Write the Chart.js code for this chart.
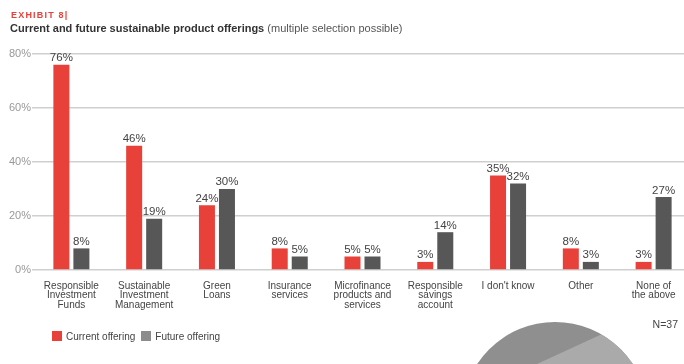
<!DOCTYPE html>
<html>
<head>
<meta charset="utf-8">
<script src="https://cdn.jsdelivr.net/npm/chart.js@4/dist/chart.umd.min.js"></script>
<style>
  html, body { margin: 0; padding: 0; background: #fff; overflow: hidden; }
  body { width: 684px; height: 364px; position: relative; font-family: "Liberation Sans", Arial, sans-serif; }
  #wrap { position: absolute; left: 0; top: 0; width: 690px; height: 364px; }
  .exhibit { position: absolute; left: 11px; top: 10px; color: #e8413a; font-weight: bold; font-size: 9px; letter-spacing: 1.2px; }
  .title { position: absolute; left: 10px; top: 22px; color: #333; font-size: 11px; }
  .title b { font-weight: bold; }
  .title span { color: #555; }
  .legend { position: absolute; left: 52px; top: 331px; font-size: 10px; color: #444; }
  .legend i { display: inline-block; width: 10px; height: 10px; vertical-align: -1px; margin-right: 4px; }
  .legend em { font-style: normal; margin-right: 6px; }
  .n { position: absolute; right: 6px; top: 318px; font-size: 10.5px; color: #444; }
  svg.deco { position: absolute; left: 0; top: 0; }
</style>
</head>
<body>
<svg class="deco" width="684" height="364">
  <defs>
    <clipPath id="disc"><circle cx="555" cy="415" r="93"/></clipPath>
  </defs>
  <circle cx="555" cy="415" r="93" fill="#8f8f8f"/>
  <polygon points="411,422 726,277 800,600 400,600" fill="#aaaaaa" clip-path="url(#disc)"/>
</svg>
<div id="wrap"><canvas id="chart"></canvas></div>
<div class="exhibit">EXHIBIT 8|</div>
<div class="title"><b>Current and future sustainable product offerings</b> <span>(multiple selection possible)</span></div>
<div class="legend"><i style="background:#e8413a"></i><em>Current offering</em><i style="background:#8c8c8c"></i><em>Future offering</em></div>
<div class="n">N=37</div>
<script>
const categories = [
  ["Responsible", "Investment", "Funds"],
  ["Sustainable", "Investment", "Management"],
  ["Green", "Loans"],
  ["Insurance", "services"],
  ["Microfinance", "products and", "services"],
  ["Responsible", "savings", "account"],
  ["I don't know"],
  ["Other"],
  ["None of", "the above"]
];
const currentOffering = [76, 46, 24, 8, 5, 3, 35, 8, 3];
const futureOffering = [8, 19, 30, 5, 5, 14, 32, 3, 27];
const yTicks = [0, 20, 40, 60, 80];

// value labels above each bar
const valueLabels = {
  id: "valueLabels",
  afterDatasetsDraw(chart) {
    const ctx = chart.ctx;
    ctx.save();
    ctx.font = "11.5px 'Liberation Sans', Arial, sans-serif";
    ctx.fillStyle = "#444";
    ctx.textAlign = "center";
    ctx.textBaseline = "bottom";
    chart.data.datasets.forEach((ds, i) => {
      chart.getDatasetMeta(i).data.forEach((bar, j) => {
        ctx.fillText(ds.data[j] + "%", bar.x, bar.y - 1);
      });
    });
    ctx.restore();
  }
};

let ctx = document.getElementById("chart").getContext("2d");
let myChart = new Chart(ctx, {
  type: "bar",
  data: {
    labels: categories,
    datasets: [
      {
        label: "Current offering",
        data: currentOffering,
        backgroundColor: "#e8413a",
        categoryPercentage: 0.55,
        barPercentage: 0.8
      },
      {
        label: "Future offering",
        data: futureOffering,
        backgroundColor: "#575757",
        categoryPercentage: 0.55,
        barPercentage: 0.8
      }
    ]
  },
  options: {
    responsive: true,
    maintainAspectRatio: false,
    animation: false,
    layout: { padding: { top: 54, left: 0, right: 0, bottom: 0 } },
    plugins: {
      legend: { display: false },
      tooltip: { enabled: false }
    },
    scales: {
      x: {
        grid: { display: false },
        border: { display: false },
        ticks: {
          color: "#444",
          font: { family: "'Liberation Sans', Arial, sans-serif", size: 10, lineHeight: 0.98 },
          padding: 3,
          maxRotation: 0,
          autoSkip: false
        },
        afterFit(scale) { scale.height = 94; }
      },
      y: {
        min: 0,
        max: 80,
        afterBuildTicks(scale) { scale.ticks = yTicks.map(v => ({ value: v })); },
        grid: { color: "#cfcfcf", lineWidth: 1.5, tickLength: 3 },
        border: { display: false },
        ticks: {
          color: "#999",
          font: { family: "'Liberation Sans', Arial, sans-serif", size: 11 },
          padding: 1,
          callback: v => v + "%"
        },
        afterFit(scale) { scale.width = 35; }
      }
    }
  },
  plugins: [valueLabels]
});
</script>
</body>
</html>
